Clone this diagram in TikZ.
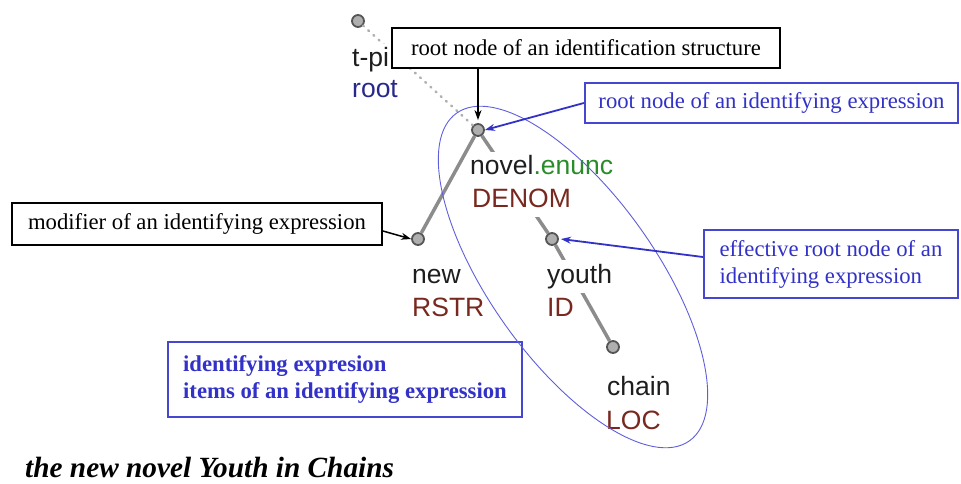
\documentclass[tikz,border=0pt]{standalone}
\usepackage{fontspec}
\setmainfont{Liberation Serif}
\newfontfamily\tsans{Liberation Sans}
\usetikzlibrary{arrows.meta,shapes.geometric}
\definecolor{bluet}{RGB}{50,50,200}
\definecolor{blueb}{RGB}{70,70,210}
\definecolor{ellc}{RGB}{95,95,220}
\definecolor{navy}{RGB}{40,40,140}
\definecolor{dred}{RGB}{120,40,30}
\definecolor{dgreen}{RGB}{40,140,40}
\definecolor{edgec}{RGB}{140,140,140}
\definecolor{nodefill}{RGB}{175,175,175}
\definecolor{nodeborder}{RGB}{85,85,85}
\definecolor{txt}{RGB}{30,30,30}
\begin{document}
\begin{tikzpicture}[x=1pt,y=-1pt,
 treenode/.style={circle, draw=nodeborder, fill=nodefill, line width=1.8pt, minimum size=12pt, inner sep=0pt},
 edge/.style={draw=edgec, line width=3.5pt},
 dotedge/.style={draw=edgec!70, line width=2.5pt, line cap=round, dash pattern=on 1pt off 6pt},
 lbl/.style={anchor=base west, fill=white, inner xsep=2pt, inner ysep=3pt, text height=20pt, text depth=7pt, font=\tsans\fontsize{26.5}{30}\selectfont},
 blkbox/.style={draw=black, line width=1.8pt, fill=white, font=\fontsize{22.7}{27}\selectfont, inner sep=0pt},
 bluebox/.style={draw=blueb, line width=2.2pt, fill=white, text=bluet, font=\fontsize{22.7}{27}\selectfont, inner sep=0pt, align=left},
 blkarrow/.style={draw=black, line width=1.5pt, -{Stealth[length=10pt,width=7pt]}},
 bluearrow/.style={draw=bluet, line width=1.8pt, -{Stealth[length=10pt,width=7pt]}},
 grpell/.style={draw=ellc, line width=0.9pt, ellipse, inner sep=0pt},
]
\useasboundingbox (0,0) rectangle (961,484);
% tree nodes
\node[treenode] (tpi) at (358,21) {};
\node[treenode] (novel) at (478,130) {};
\node[treenode] (new) at (418,239) {};
\node[treenode] (youth) at (552,239) {};
\node[treenode] (chain) at (613,347) {};
% edges
\draw[dotedge] (tpi) -- (novel);
\draw[edge] (novel) -- (new);
\draw[edge] (novel) -- (youth);
\draw[edge] (youth) -- (chain);
% labels
\node[lbl, text=txt] (tpilbl) at (350,67) {t-pi};
\node[lbl, text=navy] (rootlbl) at (350,98) {root};
\node[lbl] (novellbl) at (468,175) {\color{txt}novel\color{dgreen}.enunc};
\node[lbl, text=dred] (denomlbl) at (470,207) {DENOM};
\node[lbl, text=txt] (newlbl) at (410,283) {new};
\node[lbl, text=dred] (rstrlbl) at (410,316) {RSTR};
\node[lbl, text=txt] (youthlbl) at (545,283) {youth};
\node[lbl, text=dred] (idlbl) at (545,316) {ID};
\node[lbl, text=txt] (chainlbl) at (605,395) {chain};
\node[lbl, text=dred] (loclbl) at (604,429) {LOC};
% boxes
\node[blkbox, minimum width=388pt, minimum height=40pt] (rootbox) at (586,48) {root node of an identification structure};
\node[bluebox, minimum width=373pt, minimum height=40pt] (idbox) at (771.5,103) {root node of an identifying expression};
\node[bluebox, minimum width=254pt, minimum height=68pt] (effbox) at (831,264) {effective root node of an\\identifying expression};
\node[blkbox, minimum width=370pt, minimum height=42pt] (modbox) at (197,224) {modifier of an identifying expression};
\node[bluebox, minimum width=354pt, minimum height=75pt, font=\bfseries\fontsize{22.7}{27}\selectfont] (itembox) at (345,379.5) {identifying expresion\\items of an identifying expression};
% group ellipse
\node[grpell, minimum width=402pt, minimum height=166pt, rotate=-54.6] (grp) at (573,277) {};
% arrows
\draw[blkarrow] (rootbox.south -| novel.north) -- ([yshift=3pt]novel.north);
\draw[bluearrow] (idbox.west) -- (novel.east);
\draw[bluearrow] ([yshift=7pt]effbox.west) -- ([xshift=2pt]youth.east);
\draw[blkarrow] ([yshift=-7pt]modbox.east) -- (new.west);
% caption
\node[anchor=base west, inner sep=0pt, font=\bfseries\itshape\fontsize{29.3}{33}\selectfont] (caption) at (25,477) {the new novel Youth in Chains};
\end{tikzpicture}
\end{document}
